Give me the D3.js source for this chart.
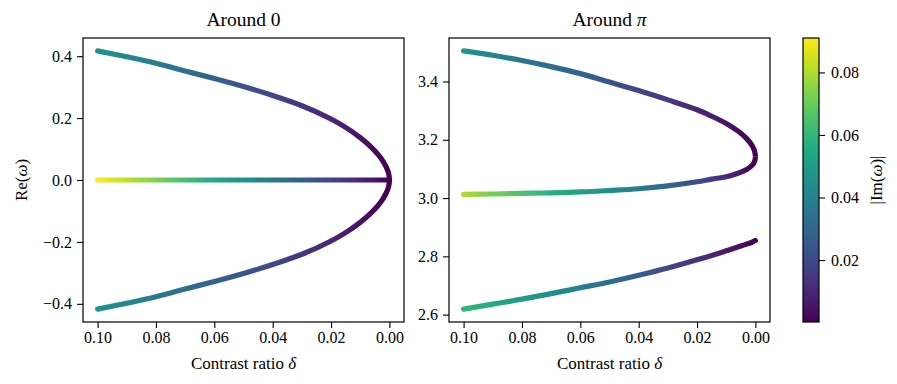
<!DOCTYPE html>
<html>
<head>
<meta charset="utf-8">
<script src="https://cdn.jsdelivr.net/npm/d3@7"></script>
<style>
	body { margin: 0; background: #fff; }
	svg text { font-family: 'Liberation Serif', 'DejaVu Serif', serif; fill: #000; }
	.axis path, .axis line { stroke: #000; }
</style>
</head>
<body>
<div id="viz"></div>
<script>
// contrast ratio samples, shared by every branch
const DELTA = [0.1, 0.09, 0.08, 0.07, 0.06, 0.05, 0.04, 0.03, 0.02, 0.015, 0.01, 0.006, 0.003, 0.001, 0.0003, 0];

// around 0 : outer pair (+/- symmetric) and the middle branch
const RE_OUTER_0 = [0.417, 0.398, 0.377, 0.352, 0.328, 0.302, 0.273, 0.240, 0.197, 0.170, 0.137, 0.104, 0.072, 0.040, 0.022, 0];
const IM_OUTER_0 = [0.047, 0.042, 0.037, 0.033, 0.028, 0.024, 0.019, 0.014, 0.0095, 0.007, 0.0048, 0.003, 0.0015, 0.0005, 0.0003, 0.0002];
const RE_MID_0 = [0, 0, 0, 0, 0, 0, 0, 0, 0, 0, 0, 0, 0, 0, 0, 0];
const IM_MID_0 = [0.091, 0.082, 0.073, 0.064, 0.055, 0.046, 0.037, 0.028, 0.019, 0.014, 0.0095, 0.006, 0.003, 0.001, 0.0004, 0.0002];

// around pi : upper, middle and lower branches
const RE_UP_PI = [3.505, 3.490, 3.472, 3.451, 3.427, 3.398, 3.369, 3.337, 3.303, 3.281, 3.256, 3.230, 3.204, 3.178, 3.161, 3.142];
const IM_UP_PI = [0.046, 0.041, 0.036, 0.032, 0.028, 0.024, 0.019, 0.015, 0.010, 0.0075, 0.005, 0.003, 0.0015, 0.0005, 0.0003, 0.0002];
const RE_MID_PI = [3.013, 3.014, 3.016, 3.018, 3.021, 3.026, 3.032, 3.042, 3.056, 3.065, 3.073, 3.085, 3.098, 3.114, 3.126, 3.142];
const IM_MID_PI = [0.080, 0.072, 0.065, 0.058, 0.052, 0.045, 0.038, 0.030, 0.021, 0.016, 0.011, 0.007, 0.0035, 0.0012, 0.0005, 0.0002];
const RE_LOW_PI = [2.619, 2.636, 2.653, 2.672, 2.692, 2.712, 2.735, 2.760, 2.788, 2.803, 2.819, 2.832, 2.842, 2.849, 2.853, 2.854];
const IM_LOW_PI = [0.060, 0.055, 0.050, 0.045, 0.039, 0.033, 0.027, 0.020, 0.013, 0.0095, 0.0065, 0.004, 0.002, 0.0007, 0.0003, 0.0002];

const X_TICKS = [0.10, 0.08, 0.06, 0.04, 0.02, 0.00];
const Y_TICKS_0 = [-0.4, -0.2, 0.0, 0.2, 0.4];
const Y_TICKS_PI = [2.6, 2.8, 3.0, 3.2, 3.4];
const CBAR_TICKS = [0.02, 0.04, 0.06, 0.08];

const WIDTH = 897, HEIGHT = 384;
const TOP = 38, PLOT_H = 284, PLOT_W = 321;
const LINE_WIDTH = 5.2;
const SERIF = "'Liberation Serif', 'DejaVu Serif', serif";
const TICK_FONT = '16px', LABEL_FONT = '17px', TITLE_FONT = '19.5px';

const zip = (re, im) => DELTA.map((d, i) => ({ delta: d, re: re[i], im: im[i] }));

const allIm = [].concat(IM_OUTER_0, IM_MID_0, IM_UP_PI, IM_MID_PI, IM_LOW_PI);
const colorScale = d3.scaleSequential(d3.interpolateViridis).domain(d3.extent(allIm));

const svg = d3.select('#viz').append('svg')
	.attr('width', WIDTH)
	.attr('height', HEIGHT);

const defs = svg.append('defs');
let gradId = 0;

// pads an extent by 5% each side, like matplotlib autoscale
const padded = (values) => {
	const [lo, hi] = d3.extent(values);
	const m = (hi - lo) * 0.05;
	return [lo - m, hi + m];
};

const styleAxis = (a) => {
	a.attr('font-family', null).attr('font-size', null);
	a.select('.domain').remove();
	a.selectAll('text').style('font-size', TICK_FONT).style('font-family', SERIF);
	a.selectAll('line').attr('stroke-width', 1.1);
};

function drawPanel(left, title, yValues, yTicks, branches, ylabel) {
	const g = svg.append('g').attr('transform', 'translate(' + left + ',' + TOP + ')');

	const xScale = d3.scaleLinear().domain(padded(DELTA).reverse()).range([0, PLOT_W]);
	const yScale = d3.scaleLinear().domain(padded(yValues)).range([PLOT_H, 0]);

	g.append('g')
		.attr('class', 'axis')
		.attr('transform', 'translate(0,' + PLOT_H + ')')
		.call(d3.axisBottom(xScale).tickValues(X_TICKS).tickFormat(d3.format('.2f')).tickSizeOuter(0).tickSize(6).tickPadding(4))
		.call(styleAxis);

	g.append('g')
		.attr('class', 'axis')
		.call(d3.axisLeft(yScale).tickValues(yTicks).tickFormat(d3.format('.1f')).tickSizeOuter(0).tickSize(6).tickPadding(5))
		.call(styleAxis);

	branches.forEach((b) => {
		const id = 'grad' + (gradId++);
		const x1 = xScale(DELTA[0]), x2 = xScale(DELTA[DELTA.length - 1]);
		const grad = defs.append('linearGradient')
			.attr('id', id)
			.attr('gradientUnits', 'userSpaceOnUse')
			.attr('x1', x1).attr('x2', x2).attr('y1', 0).attr('y2', 0);
		grad.selectAll('stop')
			.data(b.stops)
			.enter()
			.append('stop')
			.attr('offset', (d) => (xScale(d.delta) - x1) / (x2 - x1))
			.attr('stop-color', (d) => colorScale(d.im));

		const line = d3.line()
			.x((d) => xScale(d.delta))
			.y((d) => yScale(d.re))
			.curve(b.curve);

		const path = g.append('path')
			.attr('d', line(b.path))
			.attr('fill', 'none')
			.attr('stroke', 'url(#' + id + ')')
			.attr('stroke-width', LINE_WIDTH)
			.attr('stroke-linecap', 'round')
			.attr('stroke-linejoin', 'round');

		// a shared C shaped path can be cut in two at a given Re, one colour ramp per half
		if (b.clip) {
			const cy = yScale(b.clip.at);
			const clipId = 'clip' + id;
			defs.append('clipPath')
				.attr('id', clipId)
				.append('rect')
				.attr('x', -20)
				.attr('width', PLOT_W + 40)
				.attr('y', b.clip.side === 'above' ? -20 : cy)
				.attr('height', b.clip.side === 'above' ? cy + 20 : PLOT_H + 20 - cy);
			path.attr('clip-path', 'url(#' + clipId + ')');
		}
	});

	g.append('rect')
		.attr('width', PLOT_W)
		.attr('height', PLOT_H)
		.attr('fill', 'none')
		.attr('stroke', '#000')
		.attr('stroke-width', 1.2);

	const t = g.append('text')
		.attr('x', PLOT_W / 2)
		.attr('y', -12)
		.attr('text-anchor', 'middle')
		.style('font-size', TITLE_FONT);
	t.append('tspan').text(title[0]);
	if (title[1]) t.append('tspan').attr('font-style', 'italic').text(title[1]);

	const xl = g.append('text')
		.attr('x', PLOT_W / 2)
		.attr('y', PLOT_H + 47)
		.attr('text-anchor', 'middle')
		.style('font-size', LABEL_FONT);
	xl.append('tspan').text('Contrast ratio ');
	xl.append('tspan').attr('font-style', 'italic').text('δ');

	if (ylabel) {
		const yl = g.append('text')
			.attr('transform', 'translate(' + (-56) + ',' + (PLOT_H / 2) + ') rotate(-90)')
			.attr('text-anchor', 'middle')
			.style('font-size', LABEL_FONT);
		yl.append('tspan').text('Re(');
		yl.append('tspan').attr('font-style', 'italic').text('ω');
		yl.append('tspan').text(')');
	}
}

// around 0 : the outer pair is one C shaped path (monotone in y)
const outerTop = zip(RE_OUTER_0, IM_OUTER_0);
const outerBottom = outerTop.slice(0, -1).map((d) => ({ delta: d.delta, re: -d.re, im: d.im })).reverse();
const mid0 = zip(RE_MID_0, IM_MID_0);

drawPanel(83, ['Around 0'], RE_OUTER_0.concat(RE_OUTER_0.map((v) => -v)), Y_TICKS_0, [
	{ path: outerTop.concat(outerBottom), stops: outerTop, curve: d3.curveMonotoneY },
	{ path: mid0, stops: mid0, curve: d3.curveLinear }
], true);

// around pi : upper and middle branches meet at the tip, so draw one path twice
const upPi = zip(RE_UP_PI, IM_UP_PI);
const midPi = zip(RE_MID_PI, IM_MID_PI);
const lowPi = zip(RE_LOW_PI, IM_LOW_PI);
const cPi = upPi.concat(midPi.slice(0, -1).reverse());
const tipPi = RE_UP_PI[RE_UP_PI.length - 1];
const cCurve = d3.curveCatmullRom.alpha(0.5);

drawPanel(449, ['Around ', 'π'], [].concat(RE_UP_PI, RE_MID_PI, RE_LOW_PI), Y_TICKS_PI, [
	{ path: lowPi, stops: lowPi, curve: d3.curveMonotoneX },
	{ path: cPi, stops: midPi, curve: cCurve, clip: { at: tipPi, side: 'below' } },
	{ path: cPi, stops: upPi, curve: cCurve, clip: { at: tipPi, side: 'above' } }
], false);

// colorbar
const CBAR_X = 803, CBAR_W = 16;
const cbarScale = d3.scaleLinear().domain(colorScale.domain()).range([PLOT_H, 0]);

const cbarGrad = defs.append('linearGradient')
	.attr('id', 'cbar-grad')
	.attr('x1', 0).attr('x2', 0).attr('y1', 1).attr('y2', 0);
cbarGrad.selectAll('stop')
	.data(d3.range(0, 1.0001, 0.05))
	.enter()
	.append('stop')
	.attr('offset', (d) => d)
	.attr('stop-color', (d) => d3.interpolateViridis(d));

const cbar = svg.append('g').attr('transform', 'translate(' + CBAR_X + ',' + TOP + ')');

cbar.append('rect')
	.attr('width', CBAR_W)
	.attr('height', PLOT_H)
	.attr('fill', 'url(#cbar-grad)')
	.attr('stroke', '#000')
	.attr('stroke-width', 1.2);

cbar.append('g')
	.attr('class', 'axis')
	.attr('transform', 'translate(' + CBAR_W + ',0)')
	.call(d3.axisRight(cbarScale).tickValues(CBAR_TICKS).tickFormat(d3.format('.2f')).tickSizeOuter(0).tickSize(6).tickPadding(6))
	.call(styleAxis);

const cl = cbar.append('text')
	.attr('transform', 'translate(' + (CBAR_W + 63) + ',' + (PLOT_H / 2) + ') rotate(-90)')
	.attr('text-anchor', 'middle')
	.style('font-size', LABEL_FONT);
cl.append('tspan').text('|Im(');
cl.append('tspan').attr('font-style', 'italic').text('ω');
cl.append('tspan').text(')|');
</script>
</body>
</html>
